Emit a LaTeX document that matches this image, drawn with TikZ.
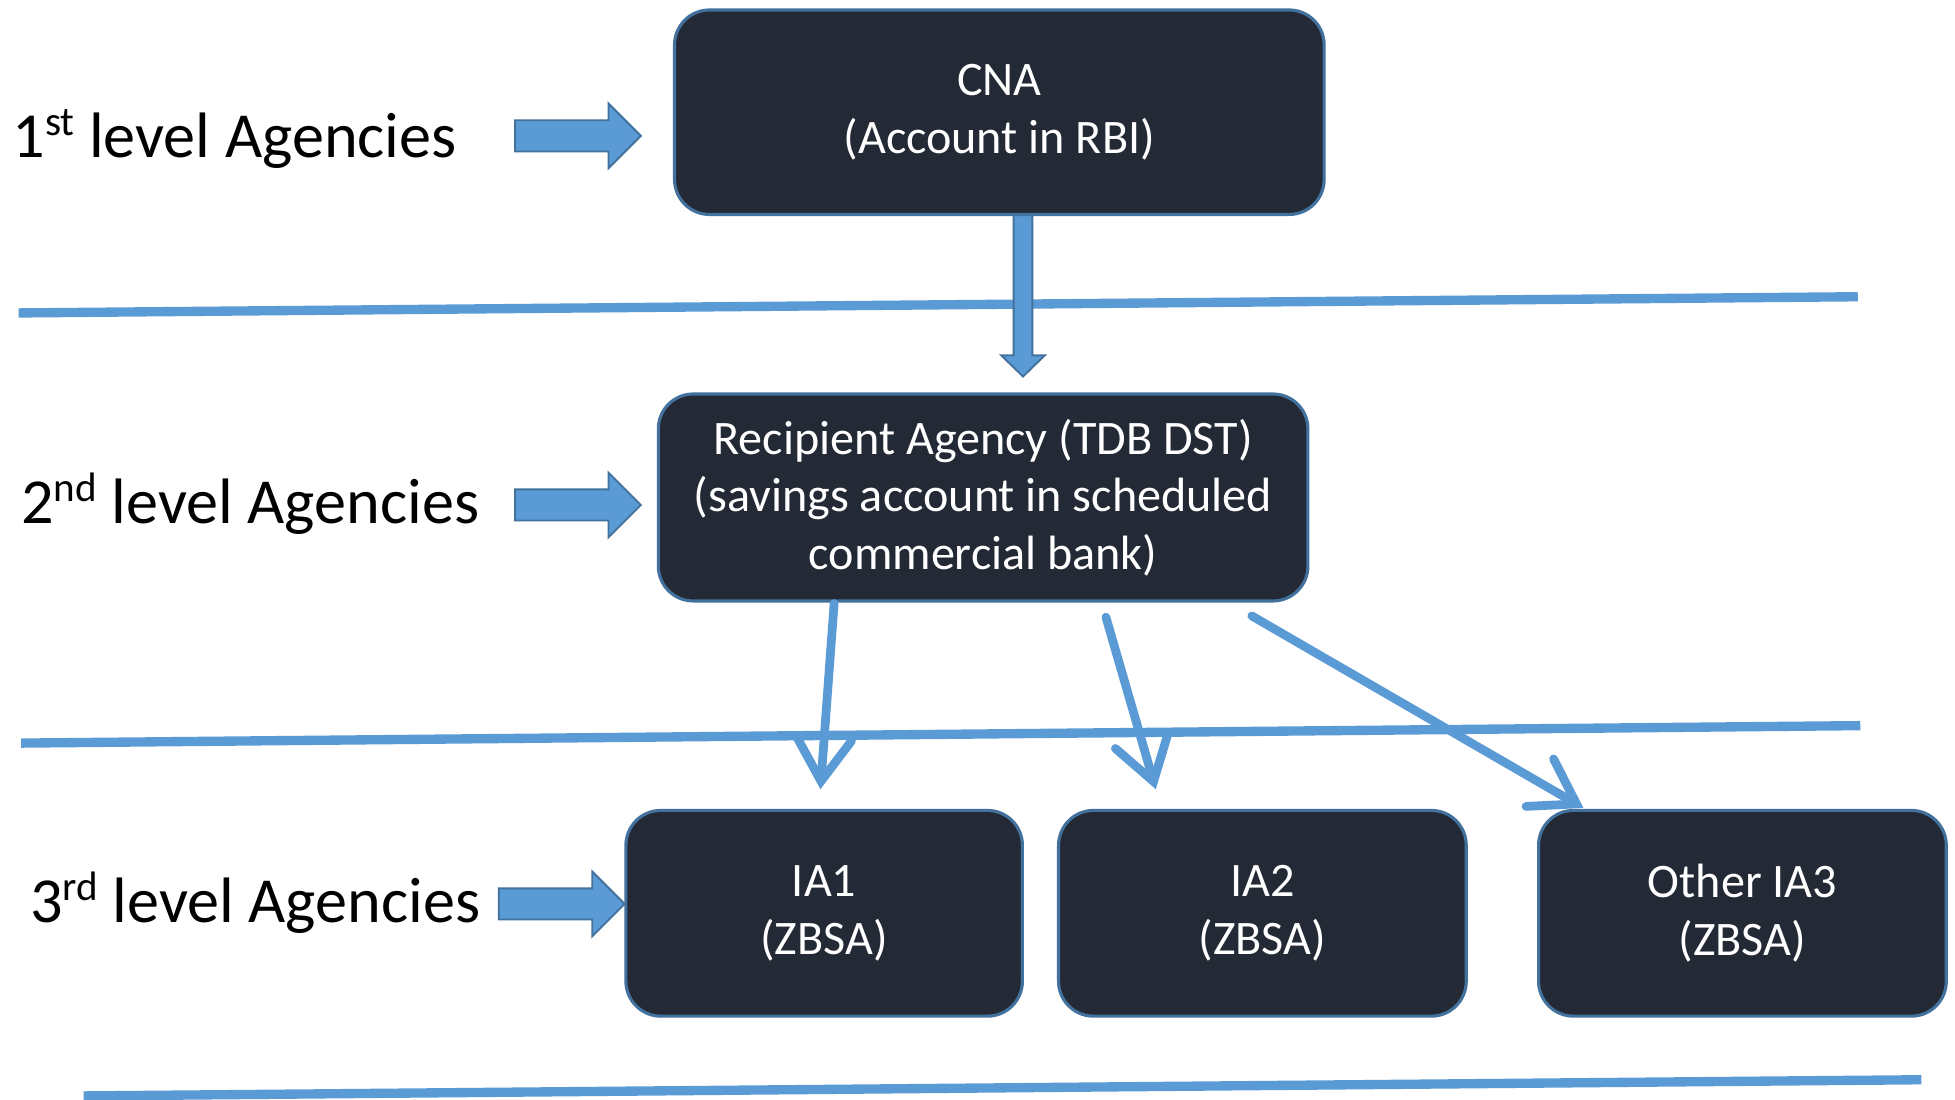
\documentclass[tikz,border=0pt]{standalone}
\usepackage{fontspec}
\setmainfont{Carlito}
\usetikzlibrary{arrows.meta}
\definecolor{boxfill}{RGB}{35,42,54}
\definecolor{boxline}{RGB}{65,113,156}
\definecolor{lblue}{RGB}{91,155,213}
\newcommand\mysup[1]{\raisebox{0.34em}{\fontsize{33}{33}\selectfont #1}}
\begin{document}
\begin{tikzpicture}[x=1pt,y=-1pt,
  agency/.style={draw=boxline, line width=2.5pt, fill=boxfill, rounded corners=28pt, text=white, align=center, font=\fontsize{38.6}{46.3}\selectfont, inner sep=0pt},
  lvl/.style={font=\fontsize{51.5}{62}\selectfont, anchor=base west, inner sep=0pt},
  sep/.style={lblue, line width=7.5pt},
  conn/.style={lblue, line width=7pt, line cap=round, -{Straight Barb[length=34pt,width=44pt,line cap=round]}},
  blk/.style={fill=lblue, draw=boxline, line width=1.5pt, line join=miter},
  barrow/.pic={\path[blk] (0,-12.5) -- (75,-12.5) -- (75,-26) -- (101,0) -- (75,26) -- (75,12.5) -- (0,12.5) -- cycle;}
]
\useasboundingbox (0,0) rectangle (1568,882);
\fill[white] (0,0) rectangle (1568,882);

% separator lines
\draw[sep] (15,251) -- (1490,238);
\draw[sep] (17,596) -- (1492,582);
\draw[sep] (67,879) -- (1541,866);

% level labels
\node[lvl] (l1) at (10,126) {1\mysup{st} level Agencies};
\node[lvl] (l2) at (17,420) {2\mysup{nd} level Agencies};
\node[lvl] (l3) at (24,740) {3\mysup{rd} level Agencies};

% block arrows
\pic at (413,109) {barrow};
\pic at (413,405) {barrow};
\pic at (400,725) {barrow};

% down block arrow CNA -> RA
\path[blk] (813,172) -- (828,172) -- (828,285) -- (838,285) -- (820.5,302) -- (803,285) -- (813,285) -- cycle;

% boxes
\node[agency, minimum width=521pt, minimum height=164pt] (cna) at (801.5,90) {CNA\\(Account in RBI)};
\node[agency, minimum width=521pt, minimum height=166pt] (ra) at (788.5,399) {Recipient Agency (TDB DST)\\(savings account in scheduled\\commercial bank)};
\node[agency, minimum width=318pt, minimum height=165pt] (ia1) at (661,732.5) {IA1\\(ZBSA)};
\node[agency, minimum width=327pt, minimum height=165pt] (ia2) at (1012.5,732.5) {IA2\\(ZBSA)};
\node[agency, minimum width=327pt, minimum height=165pt] (ia3) at (1397.5,732.5) {Other IA3\\(ZBSA)};

% connectors
\coordinate (c1s) at (669,484);
\coordinate (c1e) at (658,633);
\coordinate (c2s) at (887,495);
\coordinate (c2e) at (927,633);
\coordinate (c3s) at (1004,494);
\coordinate (c3e) at (1270,648);
\draw[conn] (c1s) -- (c1e);
\draw[conn] (c2s) -- (c2e);
\draw[conn] (c3s) -- (c3e);
\end{tikzpicture}
\end{document}
